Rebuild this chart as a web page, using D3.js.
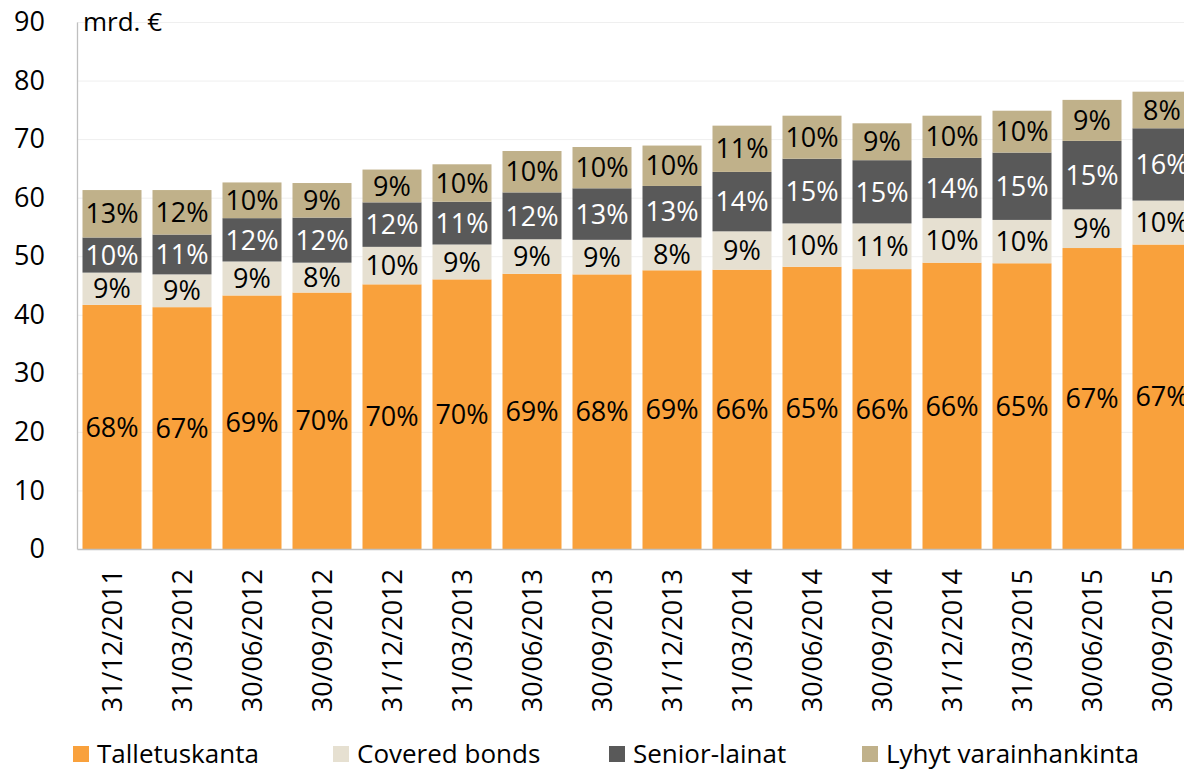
<!DOCTYPE html>
<html>
<head>
<meta charset="utf-8">
<script src="https://cdn.jsdelivr.net/npm/d3@7"></script>
<style>
  body { margin: 0; background: #fff; }
  svg { font-family: "Open Sans", sans-serif; }
</style>
</head>
<body>
<svg width="1184" height="770"></svg>
<script>
// kvartaalit
var dates = ["31/12/2011", "31/03/2012", "30/06/2012", "30/09/2012", "31/12/2012", "31/03/2013",
             "30/06/2013", "30/09/2013", "31/12/2013", "31/03/2014", "30/06/2014", "30/09/2014",
             "31/12/2014", "31/03/2015", "30/06/2015", "30/09/2015"];

// mrd. €
var talletuskanta       = [41.7, 41.3, 43.3, 43.8, 45.2, 46.05, 47.0, 46.9, 47.6, 47.7, 48.2, 47.8, 48.9, 48.8, 51.4, 52.0];
var coveredBonds        = [5.5, 5.6, 5.8, 5.1, 6.4, 5.95, 5.9, 5.9, 5.6, 6.55, 7.4, 7.8, 7.6, 7.4, 6.6, 7.5];
var seniorLainat        = [6.0, 6.8, 7.4, 7.7, 7.6, 7.3, 8.0, 8.8, 8.8, 10.15, 11.05, 10.8, 10.3, 11.5, 11.7, 12.35];
var lyhytVarainhankinta = [8.1, 7.6, 6.1, 5.9, 5.6, 6.4, 7.07, 7.05, 6.9, 7.9, 7.35, 6.3, 7.2, 7.15, 7.0, 6.25];

var seriesNames = ["Talletuskanta", "Covered bonds", "Senior-lainat", "Lyhyt varainhankinta"];
var yTicks = [0, 10, 20, 30, 40, 50, 60, 70, 80, 90];

var colors = ["#f9a13c", "#e6e0d1", "#595959", "#c0b18a"];
var labelColors = ["#000", "#000", "#fff", "#000"];

var svg = d3.select("svg");
var plotLeft = 77, plotTop = 22, plotBottom = 549, plotRight = 77 + 16 * 70;

// rakenna taulukko pinoa varten
var rows = dates.map(function(d, i) {
  return {
    date: d,
    "Talletuskanta": talletuskanta[i],
    "Covered bonds": coveredBonds[i],
    "Senior-lainat": seniorLainat[i],
    "Lyhyt varainhankinta": lyhytVarainhankinta[i]
  };
});
rows.forEach(function(r) {
  r.total = seriesNames.reduce(function(s, k) { return s + r[k]; }, 0);
});

var x = d3.scaleBand()
  .domain(dates)
  .range([plotLeft, plotRight])
  .paddingInner(0.157)
  .paddingOuter(0.0785);

var y = d3.scaleLinear()
  .domain([0, 90])
  .range([plotBottom, plotTop]);

var stack = d3.stack().keys(seriesNames);
var layers = stack(rows);

// ruudukko
svg.append("g")
  .selectAll("line")
  .data(yTicks.slice(1))
  .enter().append("line")
  .attr("x1", plotLeft).attr("x2", 1184)
  .attr("y1", function(d) { return y(d) + 0.5; })
  .attr("y2", function(d) { return y(d) + 0.5; })
  .attr("stroke", "#efefef")
  .attr("stroke-width", 1);

// pylväät
var layer = svg.append("g")
  .selectAll("g")
  .data(layers)
  .enter().append("g")
  .attr("fill", function(d, i) { return colors[i]; });

layer.selectAll("rect")
  .data(function(d) { return d; })
  .enter().append("rect")
  .attr("x", function(d) { return x(d.data.date); })
  .attr("y", function(d) { return y(d[1]); })
  .attr("width", x.bandwidth())
  .attr("height", function(d) { return y(d[0]) - y(d[1]); });

// prosenttiosuudet
var labelLayer = svg.append("g")
  .selectAll("g")
  .data(layers)
  .enter().append("g")
  .attr("fill", function(d, i) { return labelColors[i]; });

labelLayer.selectAll("text")
  .data(function(d) { return d; })
  .enter().append("text")
  .attr("x", function(d) { return x(d.data.date) + x.bandwidth() / 2; })
  .attr("y", function(d) { return (y(d[0]) + y(d[1])) / 2; })
  .attr("dy", "0.36em")
  .attr("text-anchor", "middle")
  .style("font-size", "27px")
  .text(function(d) { return Math.round((d[1] - d[0]) / d.data.total * 100) + "%"; });

// y-akseli
var yAxis = svg.append("g")
  .attr("transform", "translate(" + plotLeft + ",0)")
  .call(d3.axisLeft(y).tickValues(yTicks).tickSize(0).tickPadding(32));
yAxis.select(".domain").attr("stroke", "#bfbfbf").attr("stroke-width", 1.3);
yAxis.selectAll("text")
  .style("font-size", "27px")
  .style("font-family", "'Open Sans', sans-serif")
  .attr("fill", "#000");

// x-akseli
var xAxis = svg.append("g")
  .attr("transform", "translate(0," + plotBottom + ")")
  .call(d3.axisBottom(x).tickSize(0));
xAxis.select(".domain").attr("stroke", "#bfbfbf").attr("stroke-width", 1.3);
xAxis.selectAll("text")
  .style("font-size", "27px")
  .style("font-family", "'Open Sans', sans-serif")
  .attr("fill", "#000")
  .attr("transform", "rotate(-90)")
  .attr("text-anchor", "end")
  .attr("x", -20)
  .attr("y", 0)
  .attr("dy", "0.36em");

// yksikkö
svg.append("text")
  .attr("x", 83)
  .attr("y", 31)
  .style("font-size", "26px")
  .text("mrd. €");

// selite
var legendX = [73, 333, 609, 862];
var legend = svg.append("g")
  .selectAll("g")
  .data(seriesNames)
  .enter().append("g")
  .attr("transform", function(d, i) { return "translate(" + legendX[i] + ",746)"; });

legend.append("rect")
  .attr("width", 16).attr("height", 16)
  .attr("fill", function(d, i) { return colors[i]; });

legend.append("text")
  .attr("x", 24)
  .attr("y", 8)
  .attr("dy", "0.36em")
  .style("font-size", "26px")
  .text(function(d) { return d; });
</script>
</body>
</html>
